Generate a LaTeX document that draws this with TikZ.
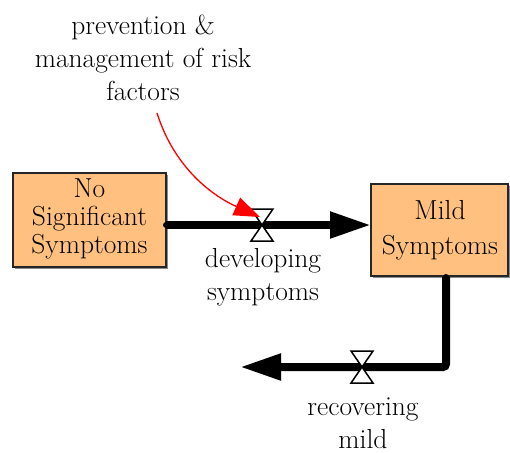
\documentclass[tikz,border=0pt]{standalone}
\usetikzlibrary{arrows.meta}
\definecolor{stockfill}{HTML}{FFC080}
\tikzset{
  stockbox/.style={draw=black!85, line width=1.2pt, fill=stockfill, inner sep=0pt},
  shadowbox/.style={fill=black!45, draw=none},
  flowline/.style={line width=8pt, -{Triangle[length=41pt,width=25pt]}},
  valvetri/.style={draw=black, fill=white, line width=1.5pt, line join=miter},
  lbl/.style={align=center, font=\fontsize{27.5}{33}\selectfont, inner sep=0pt},
  boxlbl/.style={align=center, font=\fontsize{27.5}{28}\selectfont, inner sep=0pt},
  infl/.style={draw=red, line width=1.3pt, -{Triangle[length=26pt,width=19pt]}, red},
}
\begin{document}
\begin{tikzpicture}[x=1pt,y=-1pt]
\useasboundingbox (0,0) rectangle (510,452);
% stock 1
\fill[shadowbox] (15,175) rectangle (168,269);
\draw[stockbox] (13,173) rectangle (166,267);
\node[boxlbl] (s1) at (89.5,219) {No\\Significant\\Symptoms};
\coordinate (s1e) at (166,225);
% stock 2
\fill[shadowbox] (373,186) rectangle (511,278);
\draw[stockbox] (371,184) rectangle (508,276);
\node[boxlbl, font=\fontsize{27.5}{35}\selectfont] (s2) at (440,230) {Mild\\Symptoms};
\coordinate (s2w) at (371,225);
\coordinate (s2b) at (446,277);
% flow 1
\coordinate (v1) at (262,225);
\draw[flowline] (s1e) -- (s2w);
\fill (s1e) circle (3);
\draw[valvetri] (251,209) -- (273,209) -- (v1) -- cycle;
\draw[valvetri] (251,241) -- (273,241) -- (v1) -- cycle;
\node[lbl] (l1) at (263,277) {developing\\symptoms};
% flow 2
\coordinate (corner) at (446,367);
\coordinate (sink) at (240,367);
\coordinate (v2) at (362,367);
\draw[flowline, rounded corners=3pt] (s2b) -- (corner) -- (sink);
\fill (s2b) circle (3);
\draw[valvetri] (351,351) -- (373,351) -- (v2) -- cycle;
\draw[valvetri] (351,383) -- (373,383) -- (v2) -- cycle;
\node[lbl] (l2) at (363,423) {recovering\\mild};
% influence text
\node[lbl] (p) at (143,58) {prevention \&\\management of risk\\factors};
\coordinate (ps) at (157,113);
\coordinate (pe) at (260,217);
\draw[infl] (ps) .. controls (175,170) and (215,197) .. (pe);
\end{tikzpicture}
\end{document}
